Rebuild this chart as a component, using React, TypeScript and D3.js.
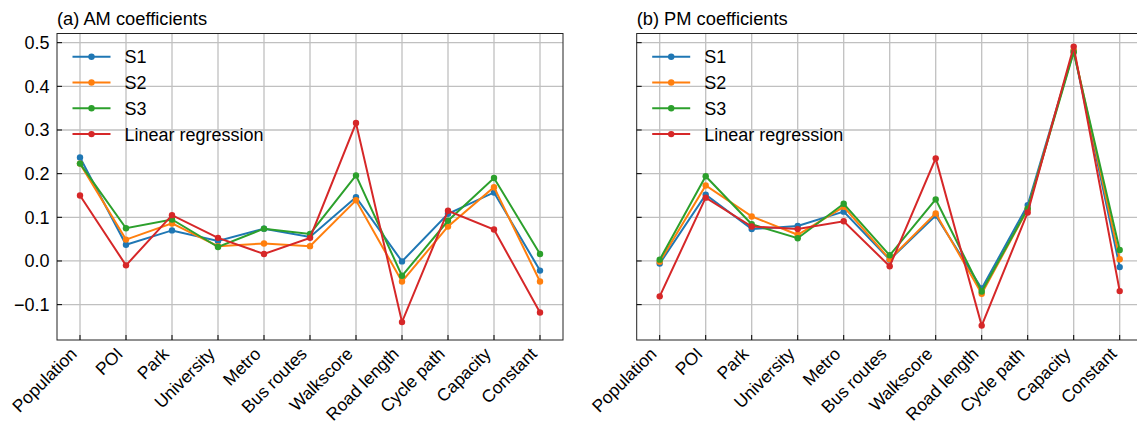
import React from 'react';
import * as d3 from 'd3';

const categories = ['Population', 'POI', 'Park', 'University', 'Metro', 'Bus routes', 'Walkscore', 'Road length', 'Cycle path', 'Capacity', 'Constant'];
const seriesNames = ['S1', 'S2', 'S3', 'Linear regression'];
const colors = ['#1f77b4', '#ff7f0e', '#2ca02c', '#d62728'];
const yTicks = [-0.1, 0, 0.1, 0.2, 0.3, 0.4, 0.5];

// AM coefficients
const amS1 = [0.237, 0.037, 0.07, 0.046, 0.074, 0.055, 0.146, -0.001, 0.108, 0.157, -0.022];
const amS2 = [0.223, 0.049, 0.086, 0.034, 0.04, 0.034, 0.139, -0.047, 0.079, 0.169, -0.047];
const amS3 = [0.223, 0.075, 0.095, 0.032, 0.074, 0.062, 0.196, -0.034, 0.092, 0.19, 0.016];
const amLR = [0.15, -0.01, 0.105, 0.053, 0.016, 0.053, 0.316, -0.14, 0.115, 0.072, -0.118];

// PM coefficients
const pmS1 = [-0.006, 0.152, 0.073, 0.08, 0.113, 0.003, 0.104, -0.063, 0.128, 0.481, -0.014];
const pmS2 = [-0.002, 0.173, 0.102, 0.06, 0.124, 0.004, 0.109, -0.075, 0.119, 0.483, 0.004];
const pmS3 = [0.003, 0.194, 0.084, 0.052, 0.131, 0.013, 0.141, -0.07, 0.12, 0.478, 0.025];
const pmLR = [-0.081, 0.145, 0.079, 0.073, 0.091, -0.012, 0.235, -0.148, 0.111, 0.491, -0.069];

const panels = [
  { left: 57, title: '(a) AM coefficients', series: [amS1, amS2, amS3, amLR], labels: true },
  { left: 636.7, title: '(b) PM coefficients', series: [pmS1, pmS2, pmS3, pmLR], labels: false },
];

const W = 1137;
const H = 424;
const top = 33.5;
const bottom = 340;
const pw = 506;
const font = '"Liberation Sans", Arial, sans-serif';

const y = d3.scaleLinear().domain([-0.181, 0.521]).range([bottom, top]);
const fmt = (v: number) => d3.format('.1f')(v).replace('-', '\u2212');

function Panel({ left, title, series, labels }: any) {
  const x = d3.scaleLinear().domain([-0.5, categories.length - 0.5]).range([left, left + pw]);
  const line = d3.line<number>().x((_, i) => x(i)).y(d => y(d));
  return (
    <g>
      {/* grid */}
      {categories.map((c, i) => (
        <line key={'gx' + c} x1={x(i)} x2={x(i)} y1={top} y2={bottom} stroke="#c0c0c0" strokeWidth={1.3} />
      ))}
      {yTicks.map(t => (
        <line key={'gy' + t} x1={left} x2={left + pw} y1={y(t)} y2={y(t)} stroke="#c0c0c0" strokeWidth={1.3} />
      ))}
      {/* series */}
      {series.map((s: number[], k: number) => (
        <g key={'s' + k}>
          <path d={line(s) || ''} fill="none" stroke={colors[k]} strokeWidth={2} />
          {s.map((v, i) => (
            <circle key={i} cx={x(i)} cy={y(v)} r={3.2} fill={colors[k]} />
          ))}
        </g>
      ))}
      {/* frame */}
      <rect x={left} y={top} width={pw} height={bottom - top} fill="none" stroke="#222" strokeWidth={1} />
      {/* ticks */}
      {yTicks.map(t => (
        <g key={'yt' + t}>
          <line x1={left} x2={left + 5} y1={y(t)} y2={y(t)} stroke="#000" strokeWidth={1} />
          {labels && (
            <text x={left - 7.5} y={y(t)} dy="0.36em" textAnchor="end" fontSize={18} fontFamily={font}>
              {fmt(t)}
            </text>
          )}
        </g>
      ))}
      {categories.map((c, i) => (
        <g key={'xt' + c}>
          <line x1={x(i)} x2={x(i)} y1={bottom} y2={bottom - 5} stroke="#000" strokeWidth={1} />
          <text
            transform={`translate(${x(i) - 2},${bottom + 15}) rotate(-45)`}
            textAnchor="end"
            fontSize={17.5}
            fontFamily={font}
          >
            {c}
          </text>
        </g>
      ))}
      {/* title */}
      <text x={left} y={25} fontSize={18.3} fontFamily={font}>{title}</text>
      {/* legend */}
      {seriesNames.map((n, k) => {
        const ly = 56.7 + k * 25.8;
        return (
          <g key={'lg' + n}>
            <line x1={left + 15.5} x2={left + 53.5} y1={ly} y2={ly} stroke={colors[k]} strokeWidth={2} />
            <circle cx={left + 34.5} cy={ly} r={3.2} fill={colors[k]} />
            <text x={left + 67.5} y={ly} dy="0.36em" fontSize={18} fontFamily={font}>{n}</text>
          </g>
        );
      })}
    </g>
  );
}

export default function App() {
  return (
    <div style={{ position: 'absolute', left: 0, top: 0 }}>
      <svg width={W} height={H} style={{ display: 'block', background: '#fff' }}>
        {panels.map(p => (
          <Panel key={p.title} {...p} />
        ))}
      </svg>
    </div>
  );
}
